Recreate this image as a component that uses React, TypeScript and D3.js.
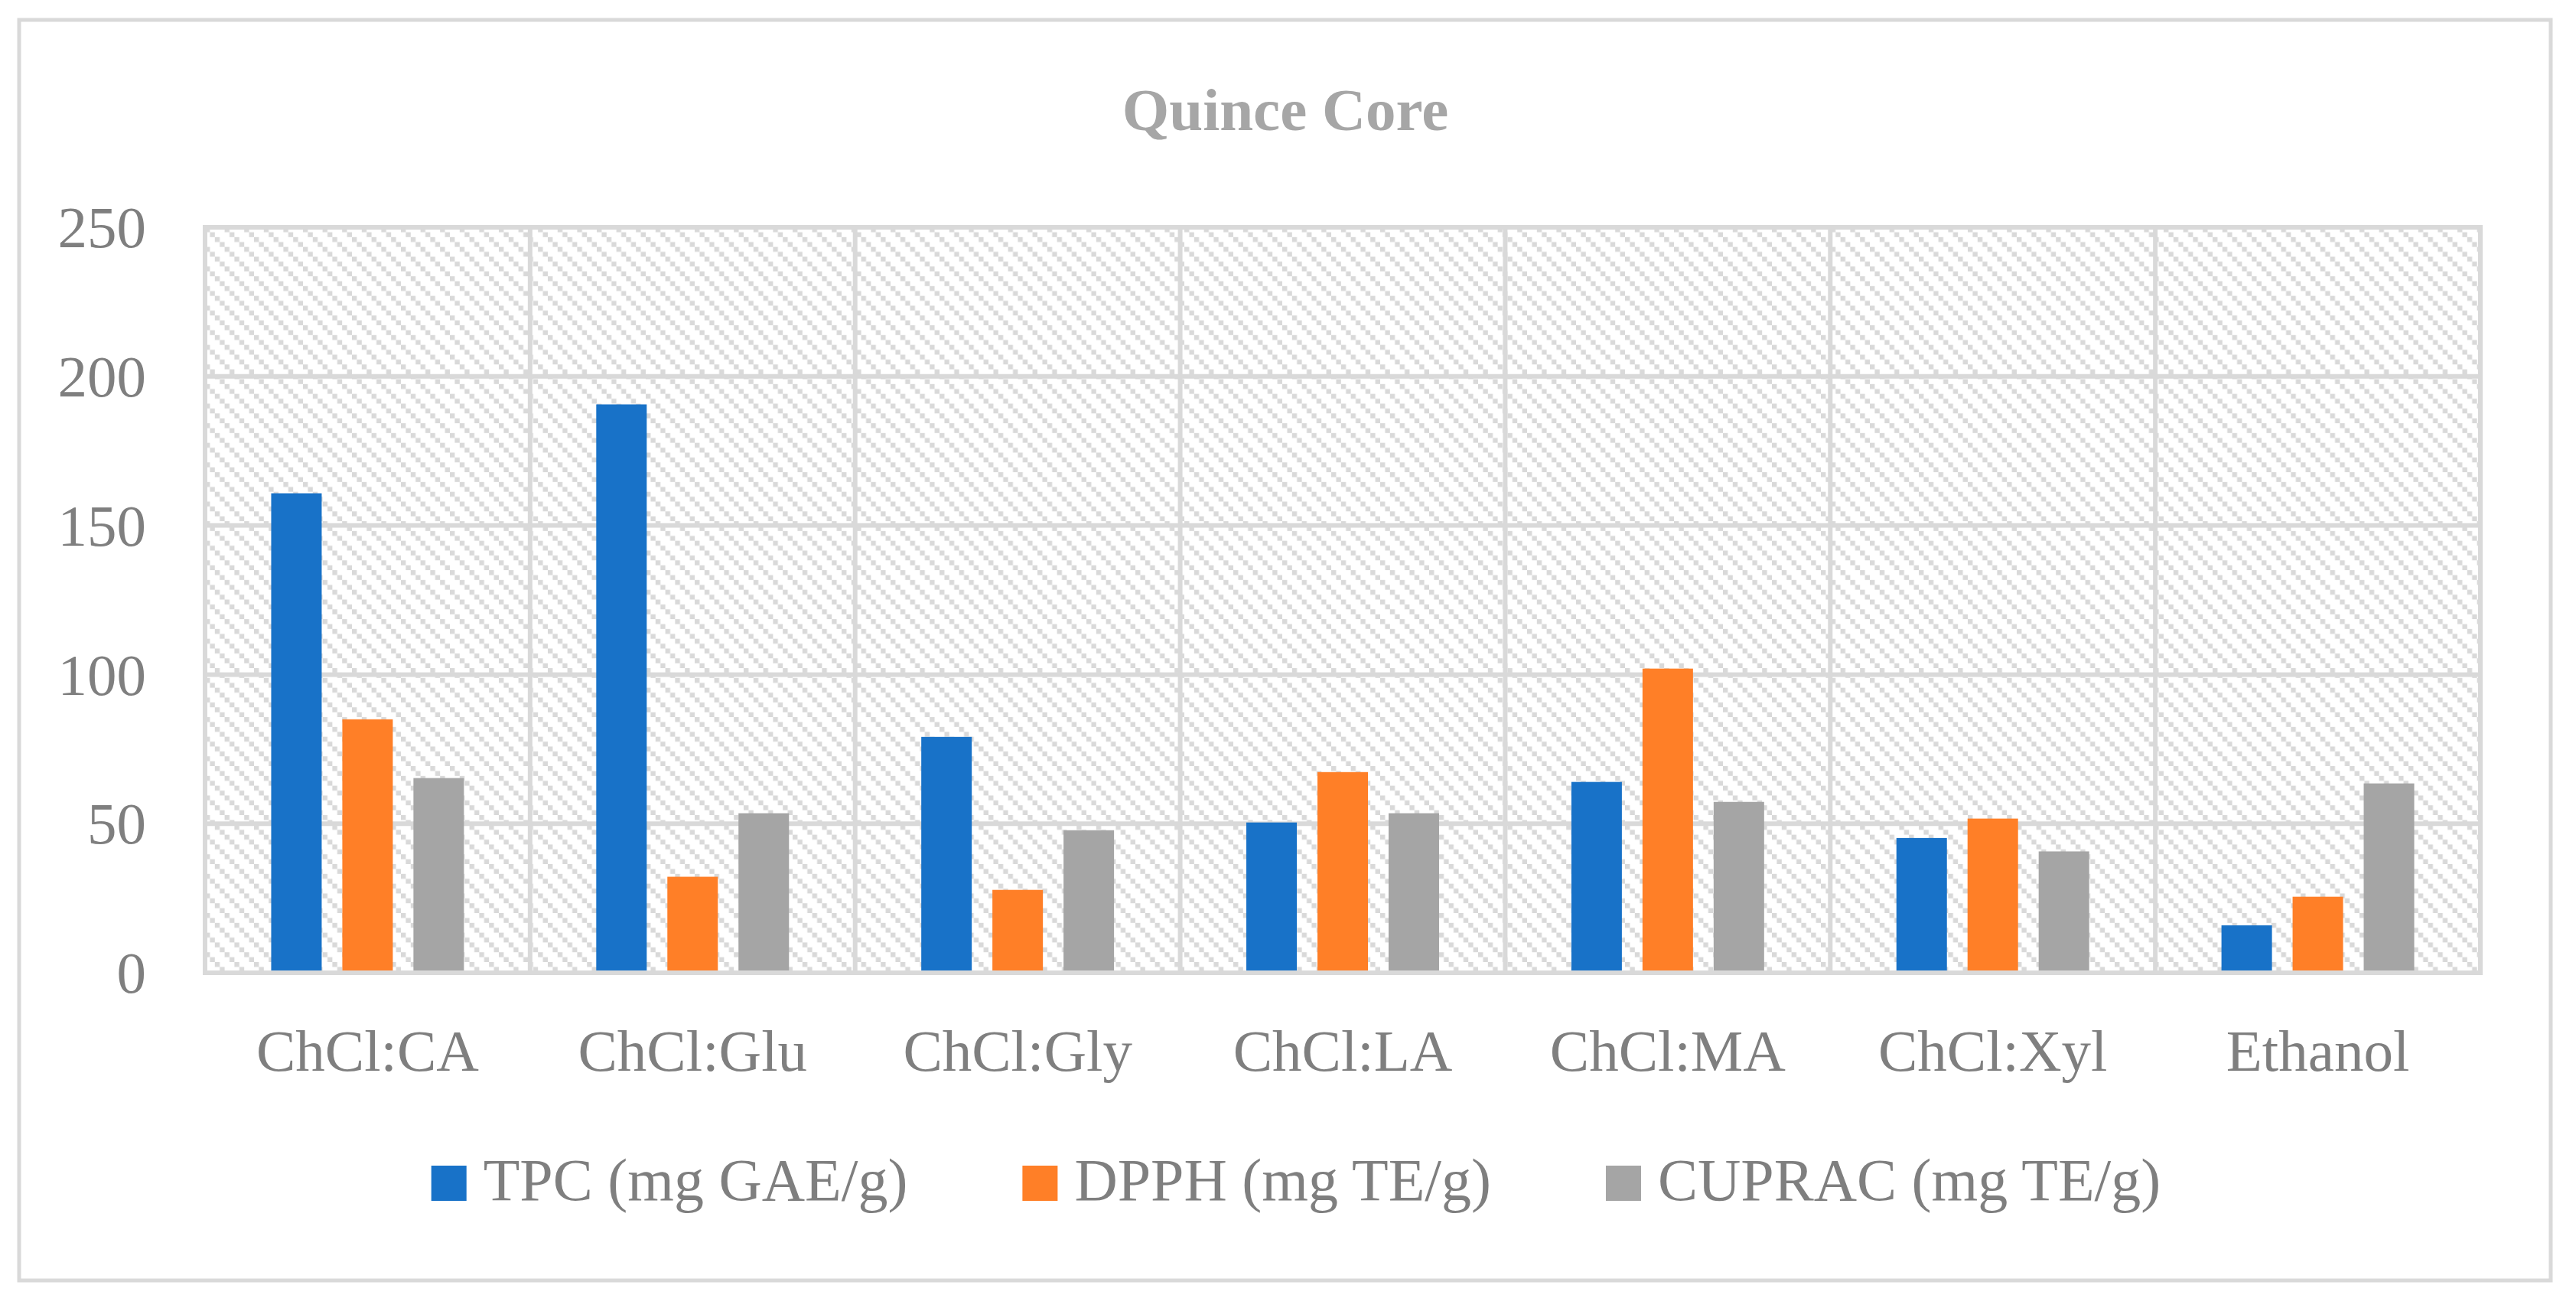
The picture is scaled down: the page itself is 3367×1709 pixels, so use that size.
import React, { useEffect, useRef } from 'react';
import * as d3 from 'd3';

const categories = ['ChCl:CA', 'ChCl:Glu', 'ChCl:Gly', 'ChCl:LA', 'ChCl:MA', 'ChCl:Xyl', 'Ethanol'];
const tpc = [160.8, 190.6, 79.1, 50.4, 64.0, 45.2, 15.9];
const dpph = [85.0, 32.2, 27.8, 67.3, 102.0, 51.7, 25.5];
const cuprac = [65.3, 53.5, 47.8, 53.5, 57.3, 40.7, 63.5];
const seriesNames = ['TPC (mg GAE/g)', 'DPPH (mg TE/g)', 'CUPRAC (mg TE/g)'];
const seriesColors = ['#1872C8', '#FF7F27', '#A5A5A5'];
const yTicks = [0, 50, 100, 150, 200, 250];
const title = 'Quince Core';

const W = 3367;
const H = 1709;
const FONT = '"Liberation Serif", "Times New Roman", serif';
const GRID = '#D9D9D9';
const TEXT = '#7F7F7F';

const App: React.FC = () => {
  const svgRef = useRef<SVGSVGElement>(null);

  useEffect(() => {
    const svg = d3.select(svgRef.current);
    svg.selectAll('*').remove();

    const left = 268, right = 3242, top = 297, bottom = 1271;

    const x = d3.scaleBand().domain(categories).range([left, right]).padding(0);
    const xSub = d3.scaleBand().domain(seriesNames).range([0, x.bandwidth()])
      .paddingInner(0.29).paddingOuter(0.93);
    const y = d3.scaleLinear().domain([0, 250]).range([bottom, top]);

    // hatch pattern (light downward diagonal)
    const defs = svg.append('defs');
    const cell = 6.4;
    const pat = defs.append('pattern')
      .attr('id', 'hatch')
      .attr('patternUnits', 'userSpaceOnUse')
      .attr('x', left).attr('y', top)
      .attr('width', cell * 4).attr('height', cell * 4);
    pat.append('rect').attr('width', cell * 4).attr('height', cell * 4).attr('fill', '#fff');
    d3.range(4).forEach(i => {
      pat.append('rect')
        .attr('x', i * cell).attr('y', i * cell)
        .attr('width', cell).attr('height', cell)
        .attr('fill', GRID);
    });

    svg.append('rect').attr('width', W).attr('height', H).attr('fill', '#fff');

    // outer chart border
    svg.append('rect')
      .attr('x', 25).attr('y', 26)
      .attr('width', 3334 - 25).attr('height', 1673 - 26)
      .attr('fill', 'none').attr('stroke', GRID).attr('stroke-width', 5);

    // title
    svg.append('text')
      .attr('x', 1680).attr('y', 170)
      .attr('text-anchor', 'middle')
      .attr('font-family', FONT).attr('font-weight', 'bold')
      .attr('font-size', 79).attr('fill', '#A6A6A6')
      .text(title);

    // plot area
    svg.append('rect')
      .attr('x', left).attr('y', top)
      .attr('width', right - left).attr('height', bottom - top)
      .attr('fill', 'url(#hatch)');

    // horizontal gridlines
    svg.append('g').selectAll('line')
      .data(yTicks)
      .enter().append('line')
      .attr('x1', left - 3).attr('x2', right + 3)
      .attr('y1', d => y(d)).attr('y2', d => y(d))
      .attr('stroke', GRID).attr('stroke-width', 6);

    // vertical gridlines at category boundaries
    const bounds = categories.map(c => x(c) as number).concat([right]);
    svg.append('g').selectAll('line')
      .data(bounds)
      .enter().append('line')
      .attr('x1', d => d).attr('x2', d => d)
      .attr('y1', top).attr('y2', bottom)
      .attr('stroke', GRID).attr('stroke-width', 6);

    // bars
    const series = [tpc, dpph, cuprac];
    series.forEach((vals, si) => {
      svg.append('g').selectAll('rect')
        .data(vals)
        .enter().append('rect')
        .attr('x', (_d, i) => (x(categories[i]) as number) + (xSub(seriesNames[si]) as number))
        .attr('y', d => y(d))
        .attr('width', xSub.bandwidth())
        .attr('height', d => y(0) - y(d) - 3)
        .attr('fill', seriesColors[si]);
    });

    // y tick labels
    svg.append('g').selectAll('text')
      .data(yTicks)
      .enter().append('text')
      .attr('x', 191).attr('y', d => y(d))
      .attr('dy', '0.34em')
      .attr('text-anchor', 'end')
      .attr('font-family', FONT).attr('font-size', 77).attr('fill', TEXT)
      .text(d => String(d));

    // x labels
    svg.append('g').selectAll('text')
      .data(categories)
      .enter().append('text')
      .attr('x', d => (x(d) as number) + x.bandwidth() / 2)
      .attr('y', 1399)
      .attr('text-anchor', 'middle')
      .attr('font-family', FONT).attr('font-size', 77).attr('fill', TEXT)
      .text(d => d);

    // legend
    const lg = svg.append('g');
    const sw = 46, gapIn = 22, gapOut = 150;
    const items = seriesNames.map((name, i) => {
      const g = lg.append('g');
      g.append('rect').attr('width', sw).attr('height', sw).attr('y', 1523).attr('fill', seriesColors[i]);
      const t = g.append('text')
        .attr('x', sw + gapIn).attr('y', 1568)
        .attr('font-family', FONT).attr('font-size', 78).attr('fill', TEXT)
        .text(name);
      const tw = (t.node() as SVGTextElement).getComputedTextLength();
      return { g, w: sw + gapIn + tw };
    });
    const total = d3.sum(items, d => d.w) + gapOut * (items.length - 1);
    let cx = 1694 - total / 2;
    items.forEach(it => {
      it.g.attr('transform', `translate(${cx},0)`);
      cx += it.w + gapOut;
    });
  }, []);

  return (
    <svg
      ref={svgRef}
      width={W}
      height={H}
      style={{ position: 'absolute', left: 0, top: 0, display: 'block' }}
    />
  );
};

export default App;
